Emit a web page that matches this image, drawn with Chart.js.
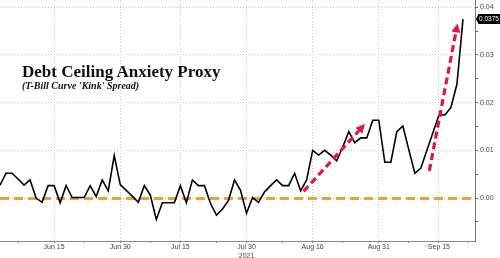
<!DOCTYPE html>
<html>
<head>
<meta charset="utf-8">
<script src="https://cdn.jsdelivr.net/npm/chart.js@4.4.0/dist/chart.umd.min.js"></script>
<style>
  html, body { margin:0; padding:0; background:#fff; }
  #wrap { position:relative; width:500px; height:258px; }
  #myChart { position:absolute; left:0; top:0; }
  #title { position:absolute; left:22px; top:62.3px; line-height:1; font:bold 17px "Liberation Serif", serif; color:#111; white-space:nowrap; }
  #sub { position:absolute; left:22px; top:80px; line-height:1; font:italic bold 10px "Liberation Serif", serif; color:#111; white-space:nowrap; }
</style>
</head>
<body>
<div id="wrap">
  <canvas id="myChart" width="500" height="258"></canvas>
  <div id="title">Debt Ceiling Anxiety Proxy</div>
  <div id="sub">(T-Bill Curve 'Kink' Spread)</div>
</div>
<script>
    // business days on the axis (holidays Jul 5 / Sep 6 left out)
    const dates = [
      'Jun 2','Jun 3','Jun 4','Jun 7','Jun 8','Jun 9','Jun 10','Jun 11','Jun 14','Jun 15',
      'Jun 16','Jun 17','Jun 18','Jun 21','Jun 22','Jun 23','Jun 24','Jun 25','Jun 28','Jun 29',
      'Jun 30','Jul 1','Jul 2','Jul 6','Jul 7','Jul 8','Jul 9','Jul 12','Jul 13','Jul 14',
      'Jul 15','Jul 16','Jul 19','Jul 20','Jul 21','Jul 22','Jul 23','Jul 26','Jul 27','Jul 28',
      'Jul 29','Jul 30','Aug 2','Aug 3','Aug 4','Aug 5','Aug 6','Aug 9','Aug 10','Aug 11',
      'Aug 12','Aug 13','Aug 16','Aug 17','Aug 18','Aug 19','Aug 20','Aug 23','Aug 24','Aug 25',
      'Aug 26','Aug 27','Aug 30','Aug 31','Sep 1','Sep 2','Sep 3','Sep 7','Sep 8','Sep 9',
      'Sep 10','Sep 13','Sep 14','Sep 15','Sep 16','Sep 17','Sep 20','Sep 21','Sep 22','Sep 23'
    ];
    // T-bill curve kink spread
    const spread = [
      0.0027, 0.0052, 0.0052, 0.0040, 0.0027, 0.0038, 0.0000, -0.0009, 0.0026, 0.0026,
      -0.0010, 0.0026, 0.0001, 0.0001, 0.0001, 0.0026, 0.0003, 0.0038, 0.0015, 0.0089,
      0.0028, 0.0016, 0.0004, -0.0009, 0.0026, 0.0006, -0.0045, -0.0010, -0.0010, -0.0010,
      0.0026, -0.0010, 0.0038, 0.0026, 0.0026, -0.0011, -0.0036, -0.0023, -0.0005, 0.0038,
      0.0016, -0.0032, 0.0001, -0.0009, 0.0013, 0.0026, 0.0038, 0.0026, 0.0026, 0.0052,
      0.0015, 0.0038, 0.0100, 0.0090, 0.0100, 0.0090, 0.0078, 0.0107, 0.0139, 0.0116,
      0.0126, 0.0126, 0.0163, 0.0163, 0.0075, 0.0075, 0.0139, 0.0151, 0.0101, 0.0052,
      0.0063, 0.0100, 0.0137, 0.0174, 0.0174, 0.0190, 0.0239, 0.0375
    ];
    const majorLabels = ['Jun 15','Jun 30','Jul 15','Jul 30','Aug 16','Aug 31','Sep 15'];
    const minorLabels = ['Jun 7','Jun 22','Jul 8','Jul 23','Aug 9','Aug 23','Sep 8','Sep 22'];
    const yTicks = [-0.005, 0, 0.005, 0.01, 0.015, 0.02, 0.025, 0.03, 0.035, 0.04];
    // red annotation arrows, [x index, value] tail -> tip
    const arrows = [
      [[50.5, 0.0014], [60.7, 0.0155]],
      [[71.4, 0.0057], [76.1, 0.0366]]
    ];

    const majorIdx = majorLabels.map(d => dates.indexOf(d));
    const minorIdx = minorLabels.map(d => dates.indexOf(d));
    const isMajorY = v => Math.round(v * 200) % 2 === 0;

    const overlay = {
      id: 'overlay',
      beforeDatasetsDraw(chart) {
        const {ctx, chartArea, scales: {y}} = chart;
        const py = Math.round(y.getPixelForValue(0)) + 0.5;
        ctx.save();
        ctx.strokeStyle = '#f0a03a';
        ctx.lineWidth = 3;
        ctx.setLineDash([9, 5]);
        ctx.beginPath();
        ctx.moveTo(chartArea.left, py);
        ctx.lineTo(chartArea.right, py);
        ctx.stroke();
        ctx.restore();
      },
      afterDatasetsDraw(chart) {
        const {ctx, scales: {x, y}} = chart;
        ctx.save();
        arrows.forEach(a => {
          const x0 = x.getPixelForValue(a[0][0]), y0 = y.getPixelForValue(a[0][1]);
          const x1 = x.getPixelForValue(a[1][0]), y1 = y.getPixelForValue(a[1][1]);
          const ang = Math.atan2(y1 - y0, x1 - x0);
          const head = 9, half = 4.5;
          const bx = x1 - head * Math.cos(ang), by = y1 - head * Math.sin(ang);
          ctx.strokeStyle = '#e3163f';
          ctx.fillStyle = '#e3163f';
          ctx.lineWidth = 3.2;
          ctx.setLineDash([7, 4]);
          ctx.beginPath();
          ctx.moveTo(x0, y0);
          ctx.lineTo(bx, by);
          ctx.stroke();
          ctx.setLineDash([]);
          ctx.beginPath();
          ctx.moveTo(x1, y1);
          ctx.lineTo(bx + half * Math.sin(ang), by - half * Math.cos(ang));
          ctx.lineTo(bx - half * Math.sin(ang), by + half * Math.cos(ang));
          ctx.closePath();
          ctx.fill();
        });

        // last value tag on the axis
        const last = spread[spread.length - 1];
        const ly = y.getPixelForValue(last);
        const lx = chart.chartArea.right + 1;
        ctx.fillStyle = '#000';
        ctx.beginPath();
        ctx.moveTo(lx, ly);
        ctx.lineTo(lx + 2.5, ly - 5);
        ctx.lineTo(500, ly - 5);
        ctx.lineTo(500, ly + 5);
        ctx.lineTo(lx + 2.5, ly + 5);
        ctx.closePath();
        ctx.fill();
        ctx.fillStyle = '#fff';
        ctx.font = '6.5px "Liberation Sans", Arial, sans-serif';
        ctx.textBaseline = 'middle';
        ctx.textAlign = 'left';
        ctx.fillText(last.toString(), lx + 3, ly + 0.5);
        ctx.restore();
      }
    };

    const data = {
      labels: dates,
      datasets: [{
        label: 'Kink spread',
        data: spread,
        borderColor: '#000',
        borderWidth: 1.6,
        pointRadius: 0,
        tension: 0,
        fill: false
      }]
    };

    const config = {
      type: 'line',
      data,
      options: {
        responsive: false,
        animation: false,
        devicePixelRatio: 1,
        layout: { padding: 0 },
        plugins: {
          legend: { display: false },
          tooltip: { enabled: false }
        },
        scales: {
          x: {
            type: 'category',
            offset: false,
            afterBuildTicks(scale) {
              scale.ticks = majorIdx.concat(minorIdx).sort((a, b) => a - b).map(v => ({ value: v }));
            },
            afterFit(scale) {
              scale.height = 17;
              scale.paddingLeft = 0;
              scale.paddingRight = 0;
            },
            grid: {
              color: c => (c.tick && majorIdx.includes(c.tick.value)) ? '#c8c8c8' : 'rgba(0,0,0,0)',
              tickColor: '#888',
              tickLength: 2,
              lineWidth: 1
            },
            border: { display: true, color: '#888', dash: [1, 2] },
            ticks: {
              autoSkip: false,
              maxRotation: 0,
              padding: 0,
              color: '#444',
              font: { family: '"Liberation Sans", Arial, sans-serif', size: 7 },
              callback(value) {
                const d = dates[value];
                if (!majorLabels.includes(d)) return '';
                return d === 'Jul 30' ? ['Jul 30', '2021'] : d;
              }
            }
          },
          y: {
            position: 'right',
            min: -0.009,
            max: 0.0415,
            afterBuildTicks(scale) {
              scale.ticks = yTicks.map(v => ({ value: v }));
            },
            afterFit(scale) {
              scale.width = 25;
              scale.paddingTop = 0;
              scale.paddingBottom = 0;
            },
            grid: {
              color: c => (c.tick && isMajorY(c.tick.value)) ? '#c8c8c8' : 'rgba(0,0,0,0)',
              tickColor: '#666',
              tickLength: 3,
              lineWidth: 1
            },
            border: { display: true, color: '#777', dash: [1, 2] },
            ticks: {
              padding: 2,
              color: '#444',
              font: { family: '"Liberation Sans", Arial, sans-serif', size: 7 },
              callback: v => isMajorY(v) ? v.toFixed(2) : ''
            }
          }
        }
      },
      plugins: [overlay]
    };

    const myChart = new Chart(document.getElementById('myChart'), config);
</script>
</body>
</html>
